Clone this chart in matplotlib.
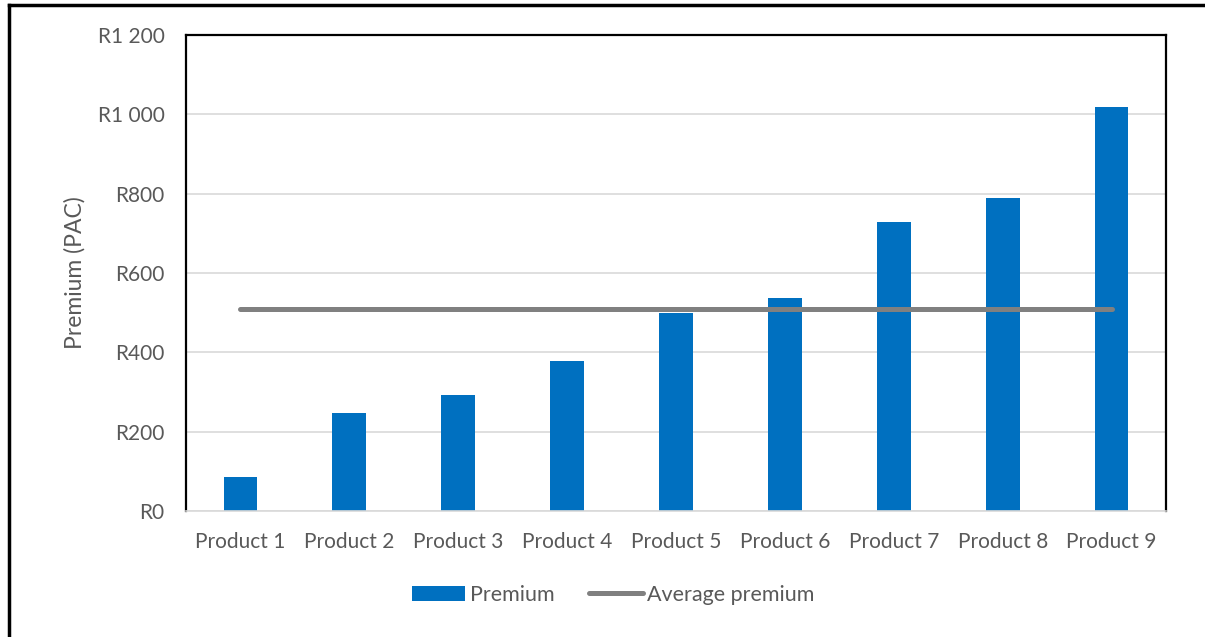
import matplotlib.pyplot as plt
import numpy as np
from matplotlib.lines import Line2D
from matplotlib.patches import Patch

products = ['Product 1', 'Product 2', 'Product 3', 'Product 4', 'Product 5',
            'Product 6', 'Product 7', 'Product 8', 'Product 9']
premium = [86, 248, 293, 379, 498, 536, 728, 788, 1018]
y_ticks = [0, 200, 400, 600, 800, 1000, 1200]

avg = np.mean(premium)
blue = '#0070C0'
grey = '#808080'
text_col = '#595959'

plt.rcParams['font.family'] = ['Lato', 'DejaVu Sans']

fig = plt.figure(figsize=(12.05, 6.37), dpi=100)
ax = fig.add_axes([186 / 1205, 1 - 511 / 637, 980 / 1205, 476 / 637])

x = np.arange(len(products))
ax.bar(x, premium, width=0.31, color=blue, zorder=2)
ax.plot([x[0], x[-1]], [avg, avg], color=grey, lw=3.6, solid_capstyle='round', zorder=3)

ax.set_xlim(-0.5, len(products) - 0.5)
ax.set_ylim(0, 1200)
ax.set_yticks(y_ticks)
ax.set_yticklabels(['R' + f'{v:,}'.replace(',', ' ') for v in y_ticks])
ax.set_xticks(x)
ax.set_xticklabels(products)
ax.tick_params(axis='both', length=0, labelsize=15, colors=text_col)
ax.tick_params(axis='y', pad=15.5)
ax.tick_params(axis='x', pad=15)
ax.yaxis.grid(True, color='#D9D9D9', lw=1.2, zorder=0)
ax.set_ylabel('Premium (PAC)', fontsize=16.5, color=text_col, labelpad=9)

for side in ['top', 'left', 'right']:
    ax.spines[side].set_color('black')
    ax.spines[side].set_linewidth(1.6)
ax.spines['bottom'].set_color('#D9D9D9')
ax.spines['bottom'].set_linewidth(1.2)

handles = [Patch(facecolor=blue, edgecolor='none', label='Premium'),
           Line2D([], [], color=grey, lw=3.6, solid_capstyle='round', label='Average premium')]
fig.legend(handles=handles, loc='center', bbox_to_anchor=(613 / 1205, 1 - 595 / 637),
           ncol=2, frameon=False, fontsize=15.5, labelcolor=text_col,
           handlelength=2.5, handletextpad=0.2, columnspacing=1.6)

# outer frame
fig.add_artist(Line2D([9 / 1205, 1.0], [1 - 5 / 637, 1 - 5 / 637], color='black', lw=2.5))
fig.add_artist(Line2D([9 / 1205, 9 / 1205], [0, 1 - 5 / 637], color='black', lw=2.5))

fig.savefig('out.png', dpi=100)
